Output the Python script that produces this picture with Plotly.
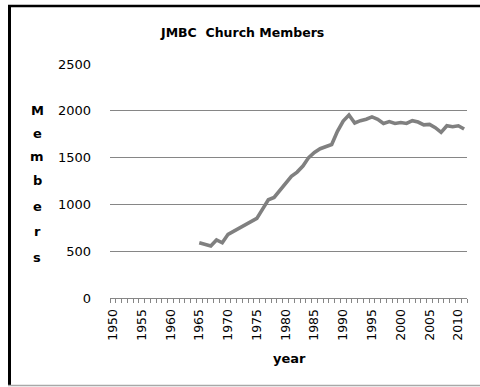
import plotly.graph_objects as go

# ---- data ----
years = list(range(1965, 2012))
members = [590, 575, 555, 620, 590, 680, 715, 750, 785, 820,
           850, 950, 1050, 1075, 1150, 1220, 1300, 1345, 1410, 1500,
           1555, 1595, 1620, 1640, 1780, 1890, 1955, 1870, 1895, 1910,
           1935, 1910, 1865, 1885, 1865, 1875, 1865, 1895, 1880, 1850,
           1855, 1820, 1770, 1840, 1830, 1840, 1805]
x_tick_years = [1950, 1955, 1960, 1965, 1970, 1975, 1980, 1985, 1990, 1995, 2000, 2005, 2010]
y_ticks = [0, 500, 1000, 1500, 2000, 2500]
title_text = "JMBC\u00a0 Church Members"
x_title = "year"
y_title_letters = ["M", "e", "m", "b", "e", "r", "s"]

W, H = 480, 387
L, R, T, B = 110, 13, 64, 89
PW, PH = W - L - R, H - T - B
FONT = "DejaVu Sans"
GRAY = "#868686"

fig = go.Figure()
fig.add_trace(go.Scatter(x=years, y=members, mode="lines",
                         line=dict(color="#808080", width=3.6),
                         hoverinfo="skip", showlegend=False))

fig.update_layout(
    width=W, height=H,
    margin=dict(l=L, r=R, t=T, b=B, pad=0),
    paper_bgcolor="white", plot_bgcolor="white",
    font=dict(family=FONT, size=13, color="black"),
    showlegend=False,
)
fig.update_xaxes(
    type="linear", range=[1949.5, 2011.5],
    tickmode="array", tickvals=x_tick_years, ticktext=[str(v) for v in x_tick_years],
    tickangle=-90, ticks="outside", ticklen=0, showgrid=False, zeroline=False,
    showline=True, linecolor=GRAY, linewidth=1,
    tickfont=dict(family=FONT, size=12.5, color="black"),
    ticklabelstandoff=5,
    minor=dict(tickmode="array", tickvals=[1949.5 + k for k in range(63)],
               ticks="outside", ticklen=4, tickcolor=GRAY, tickwidth=1, showgrid=False),
)
fig.update_yaxes(
    range=[0, 2500], tickmode="array", tickvals=y_ticks,
    ticktext=[str(v) for v in y_ticks],
    showgrid=True, gridcolor=GRAY, gridwidth=1,
    zeroline=False, showline=False, ticks="",
    tickfont=dict(family=FONT, size=13, color="black"),
    ticklabelstandoff=18,
)

def px_x(px):
    return (px - L) / PW

def px_y(py):
    return (H - B - py) / PH

annotations = [
    dict(text="<b>" + title_text + "</b>", x=px_x(242), y=px_y(32), xref="paper", yref="paper",
         xanchor="center", yanchor="middle", showarrow=False,
         font=dict(family=FONT, size=12.5, color="black")),
    dict(text="<b>" + x_title + "</b>", x=px_x(289), y=px_y(358), xref="paper", yref="paper",
         xanchor="center", yanchor="middle", showarrow=False,
         font=dict(family=FONT, size=13, color="black")),
]
letter_y = [111, 133, 156, 180.5, 206, 231.5, 257]
for ch, ly in zip(y_title_letters, letter_y):
    annotations.append(dict(text="<b>" + ch + "</b>", x=px_x(37), y=px_y(ly),
                            xref="paper", yref="paper", xanchor="center", yanchor="middle",
                            showarrow=False, font=dict(family=FONT, size=13, color="black")))
fig.update_layout(annotations=annotations)

shapes = [
    dict(type="line", xref="paper", yref="paper", x0=px_x(8), x1=px_x(W), y0=px_y(6), y1=px_y(6),
         line=dict(color="black", width=2.5)),
    dict(type="line", xref="paper", yref="paper", x0=px_x(9.5), x1=px_x(9.5), y0=px_y(5), y1=px_y(386),
         line=dict(color="black", width=3)),
    dict(type="line", xref="paper", yref="paper", x0=px_x(8), x1=px_x(W), y0=px_y(385.5), y1=px_y(385.5),
         line=dict(color="#a8a8a8", width=1.5)),
]
fig.update_layout(shapes=shapes)

fig.write_html("out.html")
